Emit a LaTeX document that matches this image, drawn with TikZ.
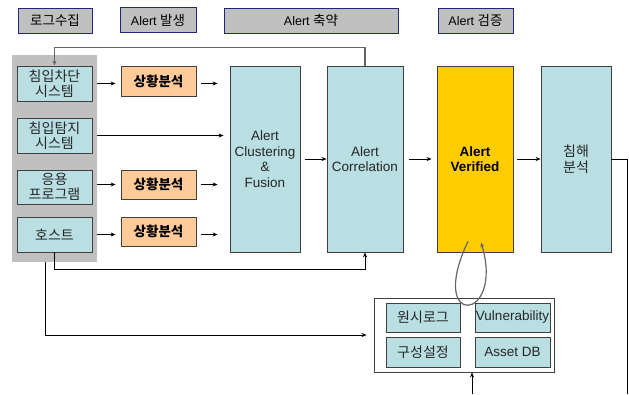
\documentclass[tikz,border=0pt]{standalone}
\usepackage{fontspec}
\setmainfont{Liberation Sans}
\newfontfamily\kr{Noto Sans CJK KR}
\usetikzlibrary{arrows.meta}
\definecolor{boxblue}{HTML}{B9DFE3}
\definecolor{anaorange}{HTML}{FFCC99}
\definecolor{verigold}{HTML}{FFCC00}
\definecolor{hdrgray}{HTML}{C0C0C0}
\definecolor{hdrline}{HTML}{24247A}
\definecolor{edgegray}{HTML}{404040}

\begin{document}
\begin{tikzpicture}[x=1pt,y=-1pt,>={Stealth[length=5pt,width=4pt]},
  hdr/.style={draw=hdrline, fill=hdrgray, line width=0.8pt, minimum height=25pt, inner sep=0pt, font=\fontsize{12.5}{14}\selectfont},
  sys/.style={draw=edgegray, fill=boxblue, line width=0.8pt, minimum width=75pt, minimum height=35pt, inner sep=0pt, align=center, text=black!85, font=\kr\fontsize{14}{15.5}\selectfont},
  ana/.style={draw=edgegray, fill=anaorange, line width=0.8pt, minimum width=75pt, minimum height=30pt, inner sep=0pt, font=\kr\fontsize{13.5}{15}\selectfont\bfseries},
  big/.style={draw=edgegray, fill=boxblue, line width=0.8pt, minimum height=186pt, inner sep=0pt, align=center, text=black!85, font=\fontsize{13.5}{15.5}\selectfont},
  db/.style={draw=edgegray, fill=boxblue, line width=0.8pt, minimum width=75pt, minimum height=30pt, inner sep=0pt, text=black!85, font=\fontsize{13.5}{15}\selectfont},
  link/.style={draw=black, line width=0.8pt},
  fb/.style={draw=black!60, line width=1.2pt}]
  \useasboundingbox (0,0) rectangle (629,394);
  % stage headers
  \node[hdr, minimum width=74pt] (h1) at (55,20.5) {\kr\fontsize{13.5}{15}\selectfont 로그수집};
  \node[hdr, minimum width=76pt] (h2) at (158,20) {Alert {\kr\fontsize{13.5}{15}\selectfont 발생}};
  \node[hdr, minimum width=174pt] (h3) at (311,20.5) {Alert {\kr\fontsize{13.5}{15}\selectfont 축약}};
  \node[hdr, minimum width=75pt] (h4) at (475.5,20.5) {Alert {\kr\fontsize{13.5}{15}\selectfont 검증}};
  % sources
  \node[fill=hdrgray, minimum width=85pt, minimum height=207pt, inner sep=0pt] (panel) at (54.5,158.5) {};
  \node[sys] (ips) at (54.5,83.5) {침입차단\\시스템};
  \node[sys] (ids) at (54.5,135.5) {침입탐지\\시스템};
  \node[sys, minimum height=34pt] (app) at (54.5,187) {응용\\프로그램};
  \node[sys] (host) at (54.5,234.5) {호스트};
  \node[ana] (an1) at (158.5,81) {상황분석};
  \node[ana, minimum height=29pt] (an2) at (158.5,184.5) {상황분석};
  \node[ana, minimum height=29pt] (an3) at (158.5,231.5) {상황분석};
  % main stages
  \node[big, minimum width=70pt] (clus) at (265,159) {Alert\\Clustering\\\&\\Fusion};
  \node[big, minimum width=76pt] (corr) at (365,159) {Alert\\Correlation};
  \node[big, minimum width=76pt, fill=verigold, text=black, font=\fontsize{13.5}{15.5}\selectfont\bfseries] (veri) at (475,159) {Alert\\Verified};
  \node[big, minimum width=70pt, font=\kr\fontsize{14}{15.5}\selectfont] (harm) at (576,159) {침해\\분석};
  % knowledge base
  \node[draw=black!75, fill=white, line width=0.8pt, minimum width=180pt, minimum height=74pt] (dbbox) at (464,335) {};
  \node[db, minimum width=74pt, minimum height=29pt, font=\kr\fontsize{14}{15}\selectfont] (raw) at (423,317.5) {원시로그};
  \node[db, minimum height=29pt] (vul) at (512.5,317.5) {Vulnerability};
  \node[db, minimum width=74pt, font=\kr\fontsize{14}{15}\selectfont] (cfg) at (423,352) {구성설정};
  \node[db] (asset) at (512.5,352) {Asset DB};
  \coordinate (dbfeed) at (472,394);
  \coordinate (harmout) at (627,394);

  \draw[link,->,shorten <=5pt,shorten >=5pt] (ips.east) -- (ips.east -| an1.west);
  \draw[link,->,shorten <=5pt,shorten >=12pt] (ips.east -| an1.east) -- (ips.east -| clus.west);
  \draw[link,->,shorten <=5pt,shorten >=6pt] (ids.east) -- (ids.east -| clus.west);
  \draw[link,->,shorten <=5pt,shorten >=5pt] (app.east |- an2.west) -- (an2.west);
  \draw[link,->,shorten <=5pt,shorten >=12pt] (an2.east) -- (an2.east -| clus.west);
  \draw[link,->,shorten <=5pt,shorten >=5pt] (host.east) -- (host.east -| an3.west);
  \draw[link,->,shorten <=5pt,shorten >=12pt] (host.east -| an3.east) -- (host.east -| clus.west);
  \draw[link,->,shorten <=5pt] (clus.east) -- (corr.west);
  \draw[link,->,shorten <=6pt,shorten >=5pt] (corr.east) -- (veri.west);
  \draw[link,->,shorten <=4pt] (veri.east) -- (harm.west);
  \draw[fb,->] (corr.north) -- ++(0,-18) -| (ips.north);
  \draw[link,->] (host.south) -- ++(0,17) -| (corr.south);
  \draw[link,->,shorten >=7pt] ([xshift=-9.5pt]panel.south) |- (dbbox.west);
  \draw[link,->] (dbfeed) -- (dbfeed |- dbbox.south);
  \draw[link] (harm.east) -| (harmout);
  \draw[fb,->] ([shift={(-7pt,11pt)}]veri.south) .. controls +(-42,88) and +(24,80) .. ([shift={(6pt,10pt)}]veri.south);
\end{tikzpicture}
\end{document}
